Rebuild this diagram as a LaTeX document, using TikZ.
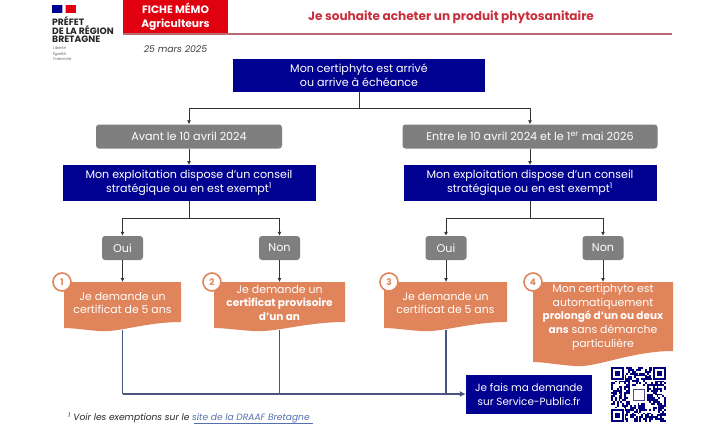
\documentclass[tikz,border=0pt]{standalone}
\usepackage{fontspec}
\setmainfont{Poppins}
\usetikzlibrary{arrows.meta}
\definecolor{navy}{HTML}{000091}
\definecolor{greybox}{HTML}{7F7F7F}
\definecolor{orangebox}{HTML}{E0845C}
\definecolor{redbox}{HTML}{E1000F}
\definecolor{redtitle}{HTML}{C9303E}
\definecolor{redrule}{HTML}{B96A70}
\definecolor{slateline}{HTML}{4A5480}
\definecolor{darkline}{HTML}{333333}
\definecolor{linkblue}{HTML}{5570B0}
\newcommand{\bfsmall}[1]{{\fontsize{10.5}{13.7}\bfseries\selectfont #1}}
\tikzset{
  x=1pt,y=-1pt,
  navybox/.style={fill=navy,text=white,align=center,inner sep=0pt,font=\fontsize{11.1}{14}\selectfont},
  finalbox/.style={fill=navy,text=white,align=center,inner sep=0pt,font=\fontsize{10.4}{14}\selectfont},
  greyround/.style={fill=greybox,text=white,rounded corners=3pt,align=center,inner sep=0pt,font=\fontsize{11.2}{13}\selectfont},
  wavetext/.style={text=white,align=center,inner sep=0pt,font=\fontsize{10.9}{13.7}\selectfont},
  badge/.style={circle,draw=orangebox,line width=1.6pt,fill=white,text=orangebox,minimum size=18pt,inner sep=0pt,font=\fontsize{9}{10}\bfseries\selectfont},
  conn/.style={draw=darkline,line width=0.9pt,-{Latex[length=4pt,width=4pt]}},
  plain/.style={draw=darkline,line width=0.9pt},
  slate/.style={draw=slateline,line width=1.3pt},
  logotext/.style={anchor=west,inner sep=0pt,text=black!85,font=\fontsize{9.2}{9}\bfseries\selectfont},
  mottotext/.style={anchor=west,inner sep=0pt,text=black!60,font=\fontsize{3.8}{4}\itshape\selectfont},
}
\newcommand{\wavefill}[5]{% x1, x2, yleft, ydip, yright
  \fill[orangebox] (#1,282) -- (#2,282) -- (#2,#5)
    .. controls ({#2-0.3*(#2-#1)},#5) and ({#1+0.45*(#2-#1)},#4+2) .. ({#1+0.3*(#2-#1)},#4)
    .. controls ({#1+0.18*(#2-#1)},#4-1) and ({#1+0.08*(#2-#1)},#3) .. (#1,#3) -- cycle;}
\begin{document}
\begin{tikzpicture}
\useasboundingbox (0,0) rectangle (720,432);
\fill[white] (0,0) rectangle (720,432);
% logo
\fill[navy] (52,5) rectangle (62,13);
\fill[redbox] (66,5) rectangle (76,13);
\fill[navy!35] (62,5) rectangle (63,13);
\fill[redbox!35] (65,5) rectangle (66,13);
\node[logotext] (l1) at (52,21) {PRÉFET};
\node[logotext] (l2) at (52,30) {DE LA RÉGION};
\node[logotext] (l3) at (52,39) {BRETAGNE};
\node[mottotext] (m1) at (53,48) {Liberté};
\node[mottotext] (m2) at (53,54) {Égalité};
\node[mottotext] (m3) at (53,59) {Fraternité};
% header
\fill[redrule] (228,33) rectangle (672,35);
\fill[redrule] (123,33) rectangle (229,34.5);
\node[fill=redbox,text=white,minimum width=105pt,minimum height=33pt,inner sep=0pt,align=center,font=\fontsize{10.7}{13.5}\bfseries\selectfont] (fiche) at (175.5,16.5) {FICHE MÉMO\\Agriculteurs};
\node[text=redtitle,inner sep=0pt,font=\fontsize{12.1}{13}\bfseries\selectfont] (titre) at (451,17) {Je souhaite acheter un produit phytosanitaire};
\node[inner sep=0pt,text=black!75,font=\fontsize{9.3}{11}\itshape\selectfont] (date) at (175.5,49) {25 mars 2025};
% top
\node[navybox,minimum width=252pt,minimum height=33.5pt] (top) at (359,75.3) {Mon certiphyto est arrivé\\ou arrive à échéance};
\node[greyround,minimum width=186pt,minimum height=24pt] (g1) at (189,136.5) {Avant le 10 avril 2024};
\node[greyround,minimum width=255pt,minimum height=24pt] (g2) at (530,136.5) {Entre le 10 avril 2024 et le 1\textsuperscript{er} mai 2026};
\node[navybox,minimum width=253pt,minimum height=35.5pt] (b1) at (189,183) {Mon exploitation dispose d’un conseil\\stratégique ou en est exempt\textsuperscript{1}};
\node[navybox,minimum width=253pt,minimum height=35.5pt] (b2) at (530,183) {Mon exploitation dispose d’un conseil\\stratégique ou en est exempt\textsuperscript{1}};
\node[greyround,minimum width=41pt,minimum height=24pt] (o1) at (122.5,248) {Oui};
\node[greyround,minimum width=41pt,minimum height=24pt] (n1) at (279.5,248) {Non};
\node[greyround,minimum width=41pt,minimum height=24pt] (o2) at (446,248) {Oui};
\node[greyround,minimum width=41pt,minimum height=24pt] (n2) at (603,248) {Non};
% orange boxes
\wavefill{64}{181}{328}{331}{322}
\wavefill{214}{345}{328}{331}{322}
\wavefill{384}{507}{328}{331}{322}
\wavefill{533}{673}{362}{366}{351}
\node[wavetext] (t1) at (122.5,303) {Je demande un\\certificat de 5 ans};
\node[wavetext] (t2) at (279.5,303) {Je demande un\\\bfsmall{certificat provisoire}\\\bfsmall{d’un an}};
\node[wavetext] (t3) at (445.5,303) {Je demande un\\certificat de 5 ans};
\node[wavetext] (t4) at (603,317) {Mon certiphyto est\\automatiquement\\\bfsmall{prolongé d’un ou deux}\\\bfsmall{ans} sans démarche\\particulière};
\node[badge] (c1) at (62,282) {1};
\node[badge] (c2) at (212,282) {2};
\node[badge] (c3) at (389,282) {3};
\node[badge] (c4) at (533,282) {4};
% final box
\node[finalbox,minimum width=126pt,minimum height=39pt] (fin) at (529,394.5) {Je fais ma demande\\sur Service-Public.fr};
% connector anchors
\coordinate (j0) at (359,108);
\coordinate (j1) at (189,218);
\coordinate (j2) at (530,218);
\coordinate (e1) at (122.5,282);
\coordinate (e2) at (279.5,282);
\coordinate (e3) at (446,282);
\coordinate (e4) at (603,282);
\coordinate (s1) at (122.5,330);
\coordinate (s2) at (279.5,330);
\coordinate (s3) at (446,330);
\coordinate (h1) at (122.5,394);
\coordinate (h2) at (279.5,394);
\coordinate (h3) at (446,394);
% connectors
\draw[plain] (top.south -| j0) -- (j0);
\draw[conn] (j0) -| (g1.north);
\draw[conn] (j0) -| (g2.north);
\draw[conn] (g1.south) -- (b1.north);
\draw[conn] (g2.south) -- (b2.north);
\draw[plain] (b1.south) -- (j1);
\draw[plain] (b2.south) -- (j2);
\draw[conn] (j1) -| (o1.north);
\draw[conn] (j1) -| (n1.north);
\draw[conn] (j2) -| (o2.north);
\draw[conn] (j2) -| (n2.north);
\draw[conn] (o1.south) -- (e1);
\draw[conn] (n1.south) -- (e2);
\draw[conn] (o2.south) -- (e3);
\draw[conn] (n2.south) -- (e4);
\draw[slate] (s1) -- (h1);
\draw[slate] (s2) -- (h2);
\draw[slate] (s3) -- (h3);
\draw[slate,-{Latex[length=6pt,width=6pt]}] (h1) -- (h1 -| fin.west);
% footnote
\node[anchor=west,inner sep=0pt,text=black!85,font=\fontsize{9.1}{10}\itshape\selectfont] (foot) at (68,418) {\textsuperscript{1} Voir les exemptions sur le \textcolor{linkblue}{site de la DRAAF Bretagne}};
\draw[linkblue,line width=0.5pt] (193.5,423.5) -- (312.5,423.5);
% QR
\begin{scope}[shift={(611,367)}]
\pgfmathsetseed{11}
\def\qs{1.897}
\foreach \i in {0,...,28}{\foreach \j in {0,...,28}{
  \pgfmathrandominteger{\r}{0}{99}
  \ifnum\r<52
    \fill[navy!85!black] ({\i*\qs},{\j*\qs}) rectangle ++(\qs,\qs);
  \fi
}}
\foreach \px/\py in {0/0,22/0,0/22}{
  \fill[white] ({(\px-0.5)*\qs},{(\py-0.5)*\qs}) rectangle ++({8*\qs},{8*\qs});
  \fill[navy!85!black] ({\px*\qs},{\py*\qs}) rectangle ++({7*\qs},{7*\qs});
  \fill[white] ({(\px+1)*\qs},{(\py+1)*\qs}) rectangle ++({5*\qs},{5*\qs});
  \fill[navy!85!black] ({(\px+2)*\qs},{(\py+2)*\qs}) rectangle ++({3*\qs},{3*\qs});
}
\fill[white] ({10*\qs},{10*\qs}) rectangle ++({9*\qs},{9*\qs});
\draw[navy!40!gray,line width=0.6pt] ({11.5*\qs},{11.5*\qs}) rectangle ++({6*\qs},{6*\qs});
\end{scope}
\end{tikzpicture}
\end{document}
